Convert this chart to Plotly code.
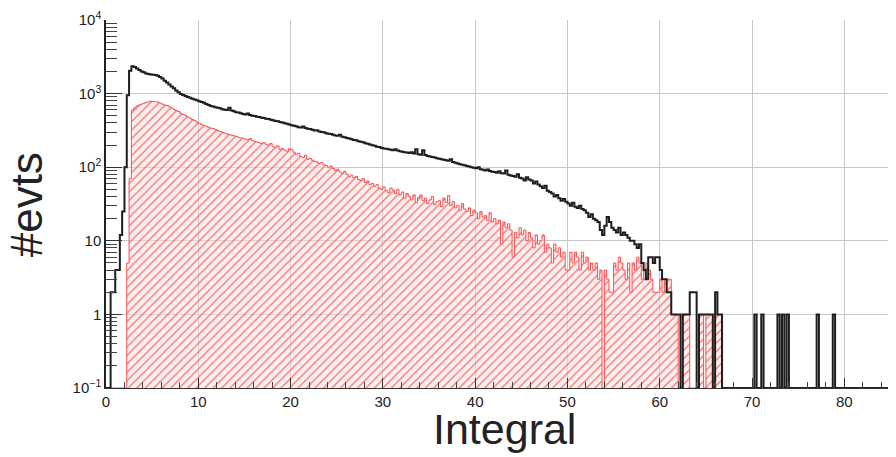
import numpy as np
import plotly.graph_objects as go

# ---------------- data ----------------
bin_width = 0.25
x_max = 85.6

# black histogram (all events), counts per 0.25-wide bin starting at 0
black_counts = [
    0, 0, 2, 2,            4, 4, 12, 25,
    100, 950, 2050, 2350,  2300, 2200, 2100, 2000,
    1950, 1880, 1850, 1820, 1800, 1790, 1750, 1680,
    1600, 1500, 1420, 1330, 1250, 1180, 1100, 1040,
    990, 960, 930, 900,    880, 850, 830, 810,
    790, 770, 750, 720,    700, 680, 670, 650,
    640, 630, 615, 605,    600, 640, 590, 575,
    560, 555, 540, 530,    520, 535, 510, 500,
    495, 485, 480, 470,    465, 455, 450, 440,
    435, 425, 420, 410,    405, 395, 390, 380,
    372, 365, 360, 350,    345, 358, 340, 332,
    330, 322, 315, 318,    305, 300, 298, 290,
    285, 282, 275, 270,    268, 275, 260, 255,
    250, 246, 240, 235,    232, 226, 222, 218,
    212, 208, 204, 198,    195, 190, 188, 183,
    180, 178, 175, 172,    170, 176, 168, 165,
    162, 160, 158, 156,    160, 154, 175, 150,
    148, 170, 146, 142,    140, 138, 135, 132,
    130, 128, 126, 124,    122, 128, 118, 115,
    112, 110, 108, 106,    104, 102, 100, 98,
    97, 100, 94, 92,       90, 93, 89, 87,
    86, 84, 88, 83,        82, 90, 79, 77,
    76, 74, 80, 72,        70, 66, 73, 68,
    66, 60, 64, 58,        55, 52, 56, 48,
    46, 44, 40, 42,        38, 35, 37, 34,
    32, 30, 33, 29,        28, 30, 27, 26,
    24, 21, 23, 20,        19, 18, 14, 12,
    16, 21, 18, 15,        14, 13, 15, 12,
    13, 12, 11, 10,        10, 9, 8, 9,
    5, 4, 3, 6,            6, 5, 6, 6,
    4, 3, 3, 2,            2, 1, 1, 1,
    1, 0, 1, 1,            1, 2, 2, 2,
    0, 1, 1, 1,            1, 1, 1, 0,
    2, 1, 1, 0,
]
# isolated black entries beyond the main body: bin lower edge, count
black_tail_edges = [70.25, 71.0, 72.75, 73.25, 73.75, 77.0, 78.75]
black_tail_counts = [1, 1, 1, 1, 1, 1, 1]

# red hatched histogram (selected events), counts per 0.25-wide bin starting at 0
red_counts = [
    0, 0, 0, 0,            0, 0, 0, 0,
    0, 5, 70, 600,         640, 680, 700, 720,
    740, 760, 770, 790,    780, 775, 770, 745,
    720, 700, 690, 660,    640, 610, 590, 570,
    540, 520, 505, 480,    465, 445, 430, 410,
    395, 380, 370, 360,    350, 340, 335, 325,
    315, 305, 300, 290,    285, 278, 272, 268,
    262, 255, 250, 247,    240, 236, 245, 230,
    225, 220, 215, 210,    215, 205, 200, 210,
    190, 185, 195, 175,    180, 170, 165, 178,
    175, 160, 150, 155,    140, 135, 145, 128,
    132, 125, 120, 118,    112, 116, 108, 105,
    100, 104, 96, 90,      94, 86, 82, 88,
    80, 74, 78, 72,        75, 68, 66, 70,
    62, 65, 58, 60,        55, 58, 52, 50,
    54, 48, 45, 52,        49, 44, 50, 42,
    46, 38, 44, 40,        36, 42, 33, 39,
    42, 35, 38, 32,        36, 40, 31, 34,
    35, 29, 38, 33,        41, 30, 34, 28,
    30, 26, 32, 27,        25, 28, 22, 26,
    24, 20, 25, 21,        22, 19, 24, 18,
    20, 17, 19, 9,         18, 15, 17, 14,
    6, 13, 11, 15,         12, 14, 10, 13,
    11, 8, 12, 9,          10, 12, 7, 9,
    8, 5, 9, 7,            8, 6, 7, 4,
    4, 7, 5, 7,            6, 4, 7, 5,
    6, 4, 5, 4,            5, 3, 4, 0,
    4, 3, 2, 2,            5, 4, 6, 5,
    4, 3, 5, 2,            5, 4, 6, 5,
    3, 4, 5, 4,            3, 2, 2, 2,
    3, 2, 3, 3,            3, 1, 1, 1,
    0, 0, 1, 1,            1, 0, 0, 0,
    0, 1, 1, 0,            1, 1, 1, 0,
    1, 1, 1, 0,
]

x_tick_vals = [0, 10, 20, 30, 40, 50, 60, 70, 80]
y_tick_vals = [0.1, 1, 10, 100, 1000, 10000]
y_tick_text = ["10<sup>\u22121</sup>", "1", "10", "10<sup>2</sup>", "10<sup>3</sup>", "10<sup>4</sup>"]
x_title = "Integral"
y_title = "#evts"

# ---------------- build step histograms ----------------
Y_LOG_MIN, Y_LOG_MAX = -1, 4
y_floor = 10 ** Y_LOG_MIN
n_bins = int(round(x_max / bin_width)) + 1

def full_counts(main, tail_edges=(), tail_counts=()):
    arr = np.zeros(n_bins)
    arr[: len(main)] = main
    for e, c in zip(tail_edges, tail_counts):
        arr[int(round(e / bin_width))] = c
    return arr

def step_xy(arr):
    edges = np.arange(len(arr) + 1) * bin_width
    vals = np.where(arr > 0, arr, y_floor)
    return edges, np.append(vals, vals[-1])

bx, by = step_xy(full_counts(black_counts, black_tail_edges, black_tail_counts))
rx, ry = step_xy(full_counts(red_counts))

fig = go.Figure()
# baseline for the hatched fill
fig.add_trace(go.Scatter(x=[rx[0], rx[-1]], y=[y_floor, y_floor], mode="lines",
                         line=dict(width=0, color="rgba(0,0,0,0)"),
                         hoverinfo="skip", showlegend=False))
fig.add_trace(go.Scatter(x=rx, y=ry, mode="lines", line_shape="hv",
                         line=dict(color="rgb(245,80,80)", width=1),
                         fill="tonexty",
                         fillpattern=dict(shape="/", size=6, solidity=0.2,
                                          fgcolor="rgba(235,90,90,0.85)",
                                          bgcolor="rgba(255,222,222,0.5)",
                                          fillmode="replace"),
                         showlegend=False))
fig.add_trace(go.Scatter(x=bx, y=by, mode="lines", line_shape="hv",
                         line=dict(color="#1e1e1e", width=2),
                         showlegend=False))

font_family = "Liberation Sans, Arial, Helvetica, sans-serif"
grid_color = "#c8c8c8"

fig.update_xaxes(range=[0, x_max], tickmode="array", tickvals=x_tick_vals,
                 ticks="inside", ticklen=10, tickcolor="#333", tickwidth=1,
                 showgrid=True, gridcolor=grid_color, gridwidth=1,
                 showline=True, linecolor="#333", linewidth=1,
                 zeroline=False, automargin=False,
                 tickfont=dict(family=font_family, size=15, color="#222"),
                 minor=dict(dtick=2, tick0=0, ticks="inside", ticklen=6,
                            tickcolor="#444", showgrid=False))

minor_y = [m * 10.0 ** k for k in range(Y_LOG_MIN, Y_LOG_MAX) for m in range(2, 10)]
fig.update_yaxes(type="log", range=[Y_LOG_MIN, Y_LOG_MAX], tickmode="array",
                 tickvals=y_tick_vals, ticktext=y_tick_text,
                 ticks="inside", ticklen=16, tickcolor="#333", tickwidth=1,
                 showgrid=True, gridcolor=grid_color, gridwidth=1,
                 showline=True, linecolor="#222", linewidth=1.5,
                 zeroline=False, automargin=False,
                 tickfont=dict(family=font_family, size=15, color="#222"),
                 minor=dict(tickmode="array", tickvals=minor_y, ticks="inside",
                            ticklen=11, tickcolor="#444", showgrid=False))

# the page body adds an 8 px offset; size the figure so the plot frame lands
# where the reference has it
fig.update_layout(
    width=888, height=449,
    margin=dict(l=98, r=0, t=12, b=69, autoexpand=False),
    paper_bgcolor="white", plot_bgcolor="white",
    showlegend=False,
    annotations=[
        dict(text=x_title, xref="paper", yref="paper", x=0.505, y=-0.112,
             xanchor="center", yanchor="middle", showarrow=False,
             font=dict(family=font_family, size=43, color="#222")),
        dict(text=y_title, xref="paper", yref="paper", x=-0.101, y=0.497,
             xanchor="center", yanchor="middle", showarrow=False, textangle=-90,
             font=dict(family=font_family, size=44, color="#222")),
    ],
)

fig.write_html("out.html")
